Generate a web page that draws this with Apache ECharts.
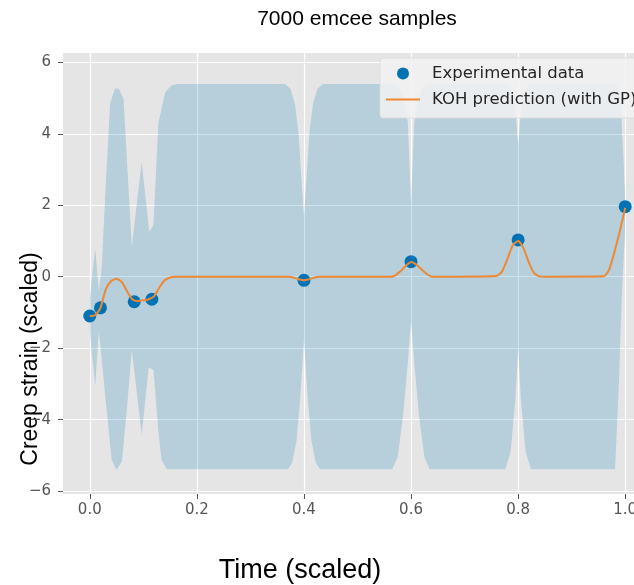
<!DOCTYPE html>
<html>
<head>
<meta charset="utf-8">
<script src="https://cdn.jsdelivr.net/npm/echarts@6/dist/echarts.min.js"></script>
<style>html,body{margin:0;padding:0;background:#fff;}#chart{width:634px;height:585px;}</style>
</head>
<body>
<div id="chart"></div>
<script>
// ---- data ----
var xTicks = [0, 0.2, 0.4, 0.6, 0.8, 1.0];
var yTicks = [-6, -4, -2, 0, 2, 4, 6];

var expX = [0, 0.02, 0.083, 0.116, 0.4, 0.6, 0.8, 1.0];
var expY = [-1.10, -0.87, -0.70, -0.63, -0.10, 0.42, 1.03, 1.96];

var predX = [0, 0.01, 0.02, 0.03, 0.04, 0.05, 0.06, 0.07, 0.08, 0.09, 0.10, 0.11, 0.12, 0.13, 0.14, 0.15, 0.16,
             0.37, 0.38, 0.39, 0.40, 0.41, 0.42, 0.43,
             0.56, 0.57, 0.58, 0.59, 0.60, 0.61, 0.62, 0.63, 0.64,
             0.76, 0.77, 0.78, 0.79, 0.80, 0.81, 0.82, 0.83, 0.84, 0.85,
             0.96, 0.97, 0.98, 0.99, 1.0];
var predY = [-1.10, -1.08, -0.87, -0.35, -0.12, -0.06, -0.15, -0.42, -0.64, -0.68, -0.66, -0.63, -0.55, -0.30, -0.10, -0.02, 0,
             0, -0.02, -0.07, -0.10, -0.07, -0.02, 0,
             0, 0.03, 0.15, 0.30, 0.41, 0.34, 0.20, 0.07, 0,
             0.02, 0.15, 0.50, 0.88, 1.00, 0.80, 0.40, 0.10, 0.01, 0,
             0.01, 0.20, 0.70, 1.28, 1.93];

var upperX = [0, 0.0101, 0.017, 0.0224, 0.03, 0.038, 0.047, 0.054, 0.063, 0.07, 0.0785, 0.097, 0.111, 0.119, 0.128, 0.141, 0.153, 0.165,
              0.365, 0.375, 0.383, 0.39, 0.395, 0.40, 0.405, 0.41, 0.417, 0.425, 0.435,
              0.57, 0.58, 0.588, 0.594, 0.60, 0.606, 0.612, 0.62, 0.63,
              0.78, 0.788, 0.795, 0.80, 0.805, 0.812, 0.82,
              0.982, 0.987, 0.9907, 0.9969, 1.0];
var upperY = [-0.60, 0.79, -0.40, 0.28, 2.60, 4.85, 5.27, 5.27, 4.99, 3.10, 0.84, 3.22, 1.26, 1.45, 4.29, 5.17, 5.36, 5.39,
              5.39, 5.25, 4.85, 4.00, 2.80, 1.68, 2.80, 4.00, 4.85, 5.25, 5.39,
              5.39, 5.25, 4.90, 4.30, 2.05, 4.30, 4.90, 5.25, 5.39,
              5.39, 5.20, 4.60, 3.70, 4.60, 5.20, 5.39,
              5.39, 5.30, 5.10, 3.26, 2.06];

var lowerX = [0, 0.0101, 0.017, 0.03, 0.041, 0.05, 0.06, 0.07, 0.0785, 0.097, 0.11, 0.119, 0.128, 0.134, 0.144,
              0.37, 0.378, 0.386, 0.392, 0.396, 0.40, 0.404, 0.408, 0.414, 0.422, 0.43,
              0.565, 0.575, 0.585, 0.594, 0.60, 0.606, 0.615, 0.625, 0.635,
              0.776, 0.786, 0.795, 0.80, 0.805, 0.814, 0.824,
              0.981, 0.9875, 0.9938, 1.0];
var lowerY = [-1.55, -3.06, -1.50, -3.50, -5.13, -5.41, -5.17, -3.60, -2.05, -4.43, -2.53, -2.61, -4.29, -5.13, -5.39,
              -5.39, -5.20, -4.60, -3.60, -2.70, -1.77, -2.70, -3.60, -4.60, -5.20, -5.39,
              -5.39, -5.05, -3.90, -2.40, -1.26, -2.40, -3.90, -5.05, -5.39,
              -5.39, -4.90, -3.40, -2.00, -3.40, -4.90, -5.39,
              -5.39, -3.25, -0.46, 1.40];

function zip(a, b) { return a.map(function (v, i) { return [v, b[i]]; }); }
var expData = zip(expX, expY);
var predData = zip(predX, predY);
var upperData = zip(upperX, upperY);
var lowerData = zip(lowerX, lowerY);

var tickColor = '#555555';
var tickFont = 'DejaVu Sans';

var chart = echarts.init(document.getElementById('chart'), null, {renderer: 'canvas'});
chart.setOption({
  animation: false,
  backgroundColor: '#ffffff',
  grid: {
    left: 63, top: 53, width: 589, height: 441,
    containLabel: false, outerBoundsMode: 'none',
    show: true, backgroundColor: '#E5E5E5', borderWidth: 0
  },
  xAxis: {
    type: 'value', min: -0.05, max: 1.05,
    axisLine: {show: false, onZero: false},
    axisTick: {show: true, customValues: xTicks, length: 5, lineStyle: {color: tickColor, width: 1}},
    axisLabel: {customValues: xTicks, color: tickColor, fontFamily: tickFont, fontSize: 15, margin: 9,
      formatter: function (v) { return v.toFixed(1); }},
    splitLine: {show: true, lineStyle: {color: '#ffffff', width: 1.2}}
  },
  yAxis: {
    type: 'value', min: -6.08, max: 6.26,
    axisLine: {show: false, onZero: false},
    axisTick: {show: true, customValues: yTicks, length: 5, lineStyle: {color: tickColor, width: 1}},
    axisLabel: {customValues: yTicks, color: tickColor, fontFamily: tickFont, fontSize: 15, margin: 12,
      formatter: function (v) { return v < 0 ? '\u2212' + Math.abs(v) : String(v); }},
    splitLine: {show: true, lineStyle: {color: '#ffffff', width: 1.2}}
  },
  legend: {
    left: 380, top: 58,
    orient: 'vertical',
    backgroundColor: 'rgba(242,242,242,0.85)',
    borderColor: 'rgba(220,220,220,0.9)', borderWidth: 1, borderRadius: 3,
    padding: [7, 30, 10, 6],
    itemWidth: 34, itemHeight: 12, itemGap: 9,
    symbolKeepAspect: true,
    textStyle: {fontFamily: 'DejaVu Sans', fontSize: 16.5, color: '#262626', lineHeight: 16, padding: [0, 0, 0, 7]},
    data: [
      {name: 'Experimental data', icon: 'circle'},
      {name: 'KOH prediction (with GP)', icon: 'path://M0,0L34,0L34,2L0,2Z'}
    ]
  },
  graphic: [
    {type: 'text', style: {x: 357, y: 19, text: '7000 emcee samples', font: '21px "Liberation Sans", Arial, sans-serif', fill: '#000', textAlign: 'center', textVerticalAlign: 'middle'}},
    {type: 'text', style: {x: 300, y: 571, text: 'Time (scaled)', font: '27px "Liberation Sans", Arial, sans-serif', fill: '#000', textAlign: 'center', textVerticalAlign: 'middle'}},
    {type: 'text', x: 31, y: 359, rotation: Math.PI / 2, style: {x: 0, y: 0, text: 'Creep strain (scaled)', font: '23px "Liberation Sans", Arial, sans-serif', fill: '#000', textAlign: 'center', textVerticalAlign: 'middle'}}
  ],
  series: [
    {
      type: 'custom', name: 'band', silent: true, z: 1,
      data: [[0, 0]],
      renderItem: function (params, api) {
        var pts = [];
        for (var i = 0; i < upperData.length; i++) pts.push(api.coord(upperData[i]));
        for (var j = lowerData.length - 1; j >= 0; j--) pts.push(api.coord(lowerData[j]));
        return {type: 'polygon', shape: {points: pts}, style: {fill: 'rgba(1,115,178,0.2)'}};
      }
    },
    {
      type: 'scatter', name: 'Experimental data', z: 2,
      data: expData, symbolSize: 13,
      itemStyle: {color: '#0173B2', opacity: 1}
    },
    {
      type: 'line', name: 'KOH prediction (with GP)', z: 3,
      data: predData, symbol: 'none', smooth: 0.2,
      lineStyle: {color: '#EE8833', width: 2},
      itemStyle: {color: '#EE8833'}
    }
  ]
});
</script>
</body>
</html>
